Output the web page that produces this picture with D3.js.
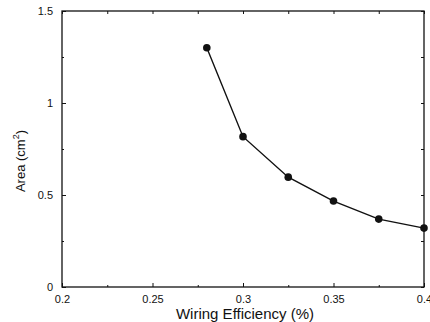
<!DOCTYPE html>
<html>
<head>
<meta charset="utf-8">
<script src="https://cdn.jsdelivr.net/npm/d3@7"></script>
<style>
  body { margin: 0; background: #fff; }
  text { font-family: "Liberation Sans", Arial, sans-serif; fill: #111; }
</style>
</head>
<body>
<div id="chart"></div>
<script>
// data
var efficiency = [0.28, 0.3, 0.325, 0.35, 0.375, 0.4];
var area = [1.3, 0.817, 0.597, 0.467, 0.369, 0.32];
var xTicks = [0.2, 0.25, 0.3, 0.35, 0.4];
var xTickLabels = ["0.2", "0.25", "0.3", "0.35", "0.4"];
var yTicks = [0, 0.5, 1, 1.5];
var yTickLabels = ["0", "0.5", "1", "1.5"];
var xMinor = [0.225, 0.275, 0.325, 0.375];
var yMinor = [0.25, 0.75, 1.25];

var margin = { top: 11, right: 6, bottom: 35, left: 62 };
var width = 430 - margin.left - margin.right;
var height = 322 - margin.top - margin.bottom;

var svg = d3.select("#chart")
    .append("svg")
    .attr("width", 430)
    .attr("height", 322)
    .append("g")
    .attr("transform", "translate(" + margin.left + "," + margin.top + ")");

var x = d3.scaleLinear().domain([0.2, 0.4]).range([0, width]);
var y = d3.scaleLinear().domain([0, 1.5]).range([height, 0]);

// frame
svg.append("rect")
    .attr("width", width)
    .attr("height", height)
    .attr("fill", "none")
    .attr("stroke", "#111")
    .attr("stroke-width", 1.3);

// bottom axis, ticks point inward
var xAxis = svg.append("g")
    .attr("transform", "translate(0," + height + ")")
    .call(d3.axisBottom(x).tickValues(xTicks).tickSize(-4).tickPadding(8)
        .tickFormat(function (d, i) { return xTickLabels[i]; }));
xAxis.select(".domain").remove();
xAxis.selectAll("text").style("font-size", "11px");

svg.append("g")
    .attr("transform", "translate(0," + height + ")")
    .call(d3.axisBottom(x).tickValues(xMinor).tickSize(-2).tickFormat(""))
    .select(".domain").remove();

// top axis ticks
svg.append("g")
    .call(d3.axisTop(x).tickValues(xTicks.concat(xMinor)).tickSize(-3).tickFormat(""))
    .select(".domain").remove();

// left axis
var yAxis = svg.append("g")
    .call(d3.axisLeft(y).tickValues(yTicks).tickSize(-4).tickPadding(9)
        .tickFormat(function (d, i) { return yTickLabels[i]; }));
yAxis.select(".domain").remove();
yAxis.selectAll("text").style("font-size", "11px");

svg.append("g")
    .call(d3.axisLeft(y).tickValues(yMinor).tickSize(-2).tickFormat(""))
    .select(".domain").remove();

// right axis ticks
svg.append("g")
    .attr("transform", "translate(" + width + ",0)")
    .call(d3.axisRight(y).tickValues(yTicks.concat(yMinor)).tickSize(-3).tickFormat(""))
    .select(".domain").remove();

svg.selectAll(".tick line").attr("stroke", "#111");

// line and markers
var pts = efficiency.map(function (e, i) { return [e, area[i]]; });
var line = d3.line()
    .x(function (d) { return x(d[0]); })
    .y(function (d) { return y(d[1]); });

svg.append("path")
    .datum(pts)
    .attr("d", line)
    .attr("fill", "none")
    .attr("stroke", "#111")
    .attr("stroke-width", 1.4);

svg.selectAll(".dot")
    .data(pts)
    .enter()
    .append("circle")
    .attr("class", "dot")
    .attr("cx", function (d) { return x(d[0]); })
    .attr("cy", function (d) { return y(d[1]); })
    .attr("r", 3.8)
    .attr("fill", "#111");

// axis labels
svg.append("text")
    .attr("x", x(0.3) + 2)
    .attr("y", height + 32)
    .attr("text-anchor", "middle")
    .style("font-size", "15px")
    .text("Wiring Efficiency (%)");

var yl = svg.append("text")
    .attr("transform", "translate(" + (-37) + "," + (height / 2 + 12) + ") rotate(-90)")
    .attr("text-anchor", "middle")
    .style("font-size", "13px");
yl.append("tspan").text("Area (cm");
yl.append("tspan").attr("dy", "-6").style("font-size", "9px").text("2");
yl.append("tspan").attr("dy", "6").text(")");
</script>
</body>
</html>
